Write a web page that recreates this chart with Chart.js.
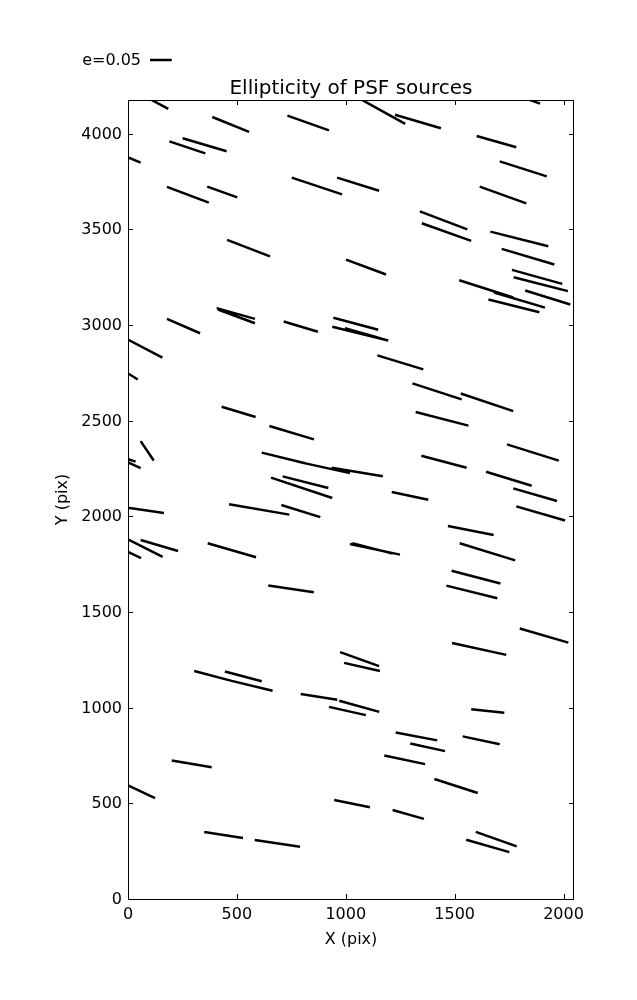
<!DOCTYPE html>
<html>
<head>
<meta charset="utf-8">
<script src="https://cdn.jsdelivr.net/npm/chart.js@4.4.1/dist/chart.umd.min.js"></script>
<style>
  html, body { margin: 0; padding: 0; background: #fff; }
</style>
</head>
<body>
<canvas id="psf" width="637" height="1000"></canvas>
<script>
// whisker end points in chip pixels (x 0-2048, y 0-4176)
var startX = [110, 387, 732, 190, 251, -20, 752, 960, 179, 364, 455, 1001,
  1045, 1226, 1800, 1601, 1707, 1615, 1340, 1349, 1664, 1716, 1763, 1771,
  1521, 1681, 1655, 1824, 407, 413, 179, 715, 943, 938, 996, -20, -15, 430,
  649, 58, -15, -15, 614, 794, 935, 657, 710, 1145, 1306, 1528, 1321, 1740,
  1347, 1644, 1769, 1211, -15, 464, 704, -15, 58, -15, 366, 644, 974, 992,
  304, 476, 445, 793, 970, 923, 1783, 1469, 1019, 1030, 1523, 1486, 1462,
  1799, 1488, 201, -15, 350, 582, 947, 1576, 1229, 1296, 1537, 1177, 1407,
  1215, 1597, 1553];
var startY = [4175, 4087, 4094, 3960, 3976, 3885, 3770, 3770, 3722, 3723, 3445, 3342,
  4195, 4099, 4195, 3988, 3855, 3723, 3594, 3532, 3488, 3398, 3288, 3250,
  3234, 3170, 3133, 3180, 3088, 3081, 3032, 3018, 3038, 2991, 2983, 2935, 2758, 2573,
  2472, 2393, 2305, 2290, 2333, 2282, 2254, 2202, 2209, 2841, 2695, 2642, 2545, 2376,
  2317, 2233, 2146, 2127, 2048, 2063, 2059, 1888, 1876, 1822, 1859, 1638, 1290, 1234,
  1192, 1140, 1189, 1072, 1036, 1004, 2052, 1949, 1855, 1860, 1859, 1716, 1638,
  1414, 1338, 724, 602, 350, 308, 517, 992, 870, 813, 850, 750, 627,
  465, 351, 310];
var endX = [185, 556, 923, 355, 453, 58, 983, 1153, 371, 502, 652, 1185,
  1273, 1437, 1892, 1783, 1923, 1829, 1558, 1576, 1930, 1958, 1994, 2020,
  1769, 1915, 1889, 2031, 583, 583, 331, 872, 1149, 1195, 1162, 158, 45, 586,
  854, 118, 35, 58, 813, 1019, 1170, 938, 920, 1356, 1532, 1769, 1563, 1978,
  1555, 1854, 1970, 1379, 165, 741, 883, 159, 230, 60, 588, 853, 1153, 1157,
  476, 664, 614, 961, 1154, 1092, 2007, 1679, 1249, 1215, 1778, 1710, 1696,
  2022, 1737, 384, 124, 528, 790, 1111, 1728, 1420, 1456, 1707, 1364, 1606,
  1359, 1785, 1751];
var endY = [4130, 4009, 4017, 3897, 3908, 3849, 3683, 3702, 3640, 3667, 3359, 3264,
  4051, 4028, 4157, 3929, 3777, 3636, 3500, 3440, 3412, 3316, 3215, 3177,
  3144, 3091, 3067, 3107, 3032, 3009, 2957, 2965, 2975, 2919, 2930, 2830, 2715, 2519,
  2402, 2292, 2286, 2252, 2277, 2226, 2209, 2096, 2148, 2768, 2611, 2550, 2474, 2291,
  2254, 2160, 2080, 2087, 2017, 2009, 1996, 1788, 1819, 1782, 1786, 1603, 1217, 1192,
  1140, 1088, 1138, 1041, 978, 961, 1978, 1902, 1800, 1805, 1770, 1649, 1572,
  1340, 1276, 689, 527, 319, 273, 480, 973, 829, 773, 809, 705, 554,
  419, 275, 245];

var xTicks = [0, 500, 1000, 1500, 2000];
var yTicks = [0, 500, 1000, 1500, 2000, 2500, 3000, 3500, 4000];
var chipW = 2048, chipH = 4176;
var keyE = "e=0.05";
var keyLength = 100; // whisker length for e=0.05, in chip pixels

// one line dataset, segments split by null points
var pts = [];
for (var i = 0; i < startX.length; i++) {
  pts.push({ x: startX[i], y: startY[i] });
  pts.push({ x: endX[i], y: endY[i] });
  pts.push({ x: endX[i], y: null });
}

var font = "'DejaVu Sans', sans-serif";

// frame + inward ticks on all four sides, and the key
var frame = {
  id: "frame",
  afterDatasetsDraw: function(chart) {
    var ctx = chart.ctx, a = chart.chartArea;
    var sx = chart.scales.x, sy = chart.scales.y;
    ctx.save();
    ctx.strokeStyle = "#000";
    ctx.lineWidth = 1;
    ctx.strokeRect(a.left + 0.5, a.top + 0.5, a.right - a.left - 1, a.bottom - a.top);
    ctx.beginPath();
    xTicks.forEach(function(v) {
      var p = Math.round(sx.getPixelForValue(v)) + 0.5;
      ctx.moveTo(p, a.bottom); ctx.lineTo(p, a.bottom - 5);
      ctx.moveTo(p, a.top); ctx.lineTo(p, a.top + 5);
    });
    yTicks.forEach(function(v) {
      var p = Math.round(sy.getPixelForValue(v)) + 0.5;
      ctx.moveTo(a.left, p); ctx.lineTo(a.left + 5, p);
      ctx.moveTo(a.right, p); ctx.lineTo(a.right - 5, p);
    });
    ctx.stroke();

    // quiver key
    var kx = 141, ky = 60;
    ctx.fillStyle = "#000";
    ctx.font = "16px " + font;
    ctx.textAlign = "right";
    ctx.textBaseline = "middle";
    ctx.fillText(keyE, kx, ky + 1);
    var len = sx.getPixelForValue(keyLength) - sx.getPixelForValue(0);
    ctx.lineWidth = 2.5;
    ctx.beginPath();
    ctx.moveTo(kx + 9, ky);
    ctx.lineTo(kx + 9 + len, ky);
    ctx.stroke();
    ctx.restore();
  }
};

function keepTicks(list) {
  return function(scale) {
    scale.ticks = list.map(function(v) { return { value: v }; });
  };
}

new Chart(document.getElementById("psf"), {
  type: "line",
  data: {
    datasets: [{
      data: pts,
      borderColor: "#000",
      borderWidth: 2.5,
      borderCapStyle: "butt",
      pointRadius: 0,
      pointHoverRadius: 0,
      spanGaps: false,
      tension: 0,
      fill: false,
      clip: 0
    }]
  },
  options: {
    responsive: false,
    animation: false,
    events: [],
    layout: { padding: { left: 45, right: 63, top: 70, bottom: 50 } },
    plugins: {
      legend: { display: false },
      tooltip: { enabled: false },
      title: {
        display: true,
        text: "Ellipticity of PSF sources",
        color: "#000",
        fullSize: false,
        font: { family: font, size: 20, weight: "normal", lineHeight: "23px" },
        padding: { top: 7, bottom: 0 }
      }
    },
    scales: {
      x: {
        type: "linear",
        min: 0,
        max: chipW,
        afterBuildTicks: keepTicks(xTicks),
        afterFit: function(s) { s.height = 51; },
        grid: { display: false, drawTicks: false },
        border: { display: false },
        ticks: {
          color: "#000",
          padding: 6,
          maxRotation: 0,
          font: { family: font, size: 16 },
          callback: function(v) { return String(v); }
        },
        title: {
          display: true,
          text: "X (pix)",
          color: "#000",
          font: { family: font, size: 16 },
          padding: { top: 0, bottom: 1 }
        }
      },
      y: {
        type: "linear",
        min: 0,
        max: chipH,
        afterBuildTicks: keepTicks(yTicks),
        afterFit: function(s) { s.width = 83; },
        grid: { display: false, drawTicks: false },
        border: { display: false },
        ticks: {
          color: "#000",
          padding: 6,
          labelOffset: 1,
          font: { family: font, size: 16 },
          callback: function(v) { return String(v); }
        },
        title: {
          display: true,
          text: "Y (pix)",
          color: "#000",
          font: { family: font, size: 16 },
          padding: { top: 8, bottom: 0 }
        }
      }
    }
  },
  plugins: [frame]
});
</script>
</body>
</html>
